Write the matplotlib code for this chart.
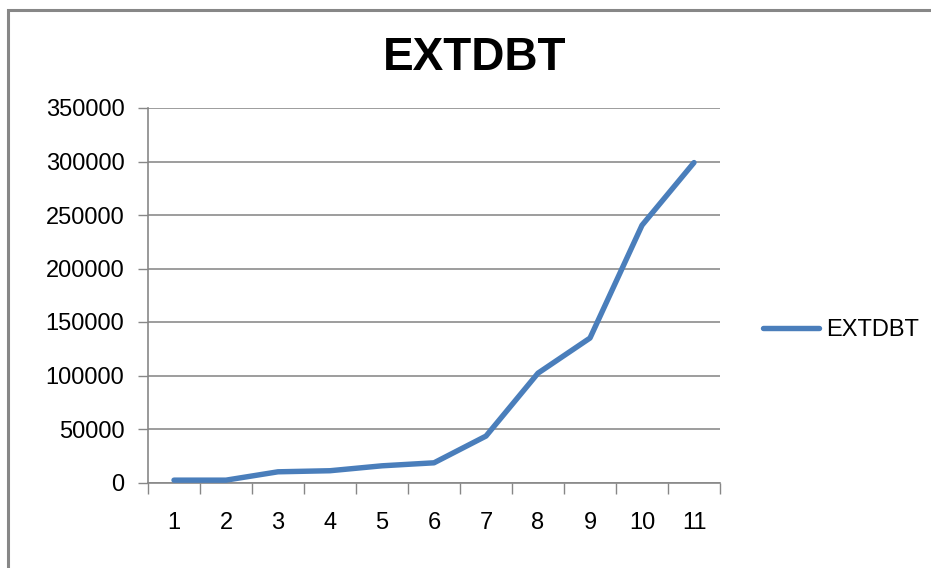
import matplotlib.pyplot as plt
from matplotlib.patches import Rectangle
import numpy as np

plt.rcParams['font.family'] = ['Liberation Sans', 'DejaVu Sans']

# 数据
periods = [1, 2, 3, 4, 5, 6, 7, 8, 9, 10, 11]
extdbt = [2200, 2200, 10000, 11000, 15600, 18400, 43400, 102200, 135000, 240400, 299000]
yticks = [0, 50000, 100000, 150000, 200000, 250000, 300000, 350000]

W, H = 931, 568
fig = plt.figure(figsize=(W / 100, H / 100), dpi=100)

# 外框
fig.patches.append(Rectangle((8 / W, -0.05), 1.1, 1 - 10 / H + 0.05,
                             transform=fig.transFigure, fill=False,
                             edgecolor='#878787', linewidth=2.2))

ax = fig.add_axes([148 / W, 1 - 482.5 / H, (720 - 148) / W, (482.5 - 108) / H])

ax.plot(periods, extdbt, color='#4A7EBB', linewidth=3.9, solid_capstyle='round',
        solid_joinstyle='round', label='EXTDBT', zorder=3)

ax.set_xlim(0.5, 11.5)
ax.set_ylim(0, 350000)

# x轴: 分类边界刻度 + 居中标签
ax.set_xticks(np.arange(0.5, 12, 1))
ax.set_xticklabels([])
ax.set_xticks(periods, minor=True)
ax.set_xticklabels([str(p) for p in periods], minor=True)
ax.tick_params(axis='x', which='major', direction='out', length=8, width=1, color='#878787')
ax.tick_params(axis='x', which='minor', length=0, pad=21, labelsize=17)

ax.set_yticks(yticks)
ax.set_yticklabels([str(v) for v in yticks])
ax.tick_params(axis='y', direction='out', length=7, width=1, color='#878787', pad=10, labelsize=17)

ax.grid(axis='y', color='#8c8c8c', linewidth=1.2)
ax.set_axisbelow(True)
for s in ['top', 'right']:
    ax.spines[s].set_visible(False)
for s in ['left', 'bottom']:
    ax.spines[s].set_color('#878787')
    ax.spines[s].set_linewidth(1.2)

fig.text(475 / W, 1 - 58 / H, 'EXTDBT', ha='center', va='center',
         fontsize=33, fontweight='bold')

leg = ax.legend(loc='center left', bbox_to_anchor=(751 / W, 1 - 330 / H),
                bbox_transform=fig.transFigure, frameon=False, fontsize=17,
                handlelength=2.4, handletextpad=0.3, borderpad=0)

fig.savefig('out.png', dpi=100)
